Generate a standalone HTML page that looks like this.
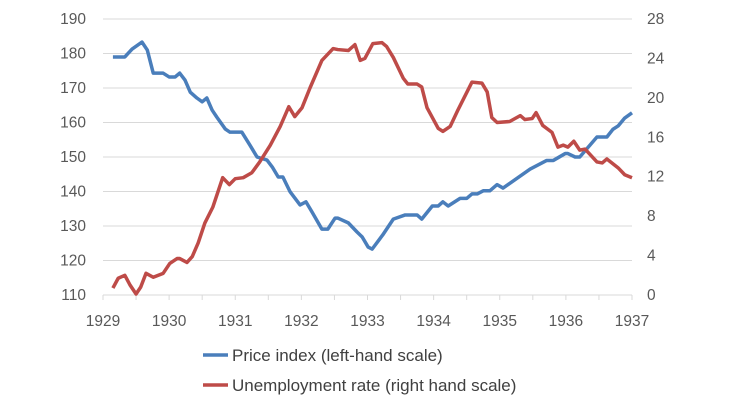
<!DOCTYPE html>
<html><head><meta charset="utf-8"><style>
body{margin:0;background:#fff;}
svg text{font-family:"Liberation Sans",sans-serif;fill:#595959;}
</style></head><body>
<svg id="chart" width="730" height="410" xmlns="http://www.w3.org/2000/svg">
<g id="grid"></g>
<g id="axes"></g>
<g id="series"></g>
<g>
<g>
<line x1="203" y1="355" x2="228" y2="355" stroke="#4a7ebb" stroke-width="3.5"/>
<text x="232" y="361" font-size="17" style="fill:#404040">Price index (left-hand scale)</text></g>
<g>
<line x1="203" y1="385" x2="228" y2="385" stroke="#be4b48" stroke-width="3.5"/>
<text x="232" y="391" font-size="17" style="fill:#404040">Unemployment rate (right hand scale)</text></g>
</g>
</svg>
<script>
const xTicks=[1929,1930,1931,1932,1933,1934,1935,1936,1937];
const leftTicks=[110,120,130,140,150,160,170,180,190];
const rightTicks=[0,4,8,12,16,20,24,28];
const priceYears=[1929.15,1929.33,1929.44,1929.59,1929.67,1929.76,1929.91,1930.00,1930.09,1930.16,1930.24,1930.32,1930.42,1930.50,1930.57,1930.65,1930.72,1930.85,1930.92,1931.10,1931.22,1931.33,1931.48,1931.56,1931.65,1931.72,1931.83,1931.98,1932.07,1932.16,1932.31,1932.40,1932.51,1932.55,1932.71,1932.84,1932.92,1933.01,1933.07,1933.23,1933.39,1933.57,1933.75,1933.82,1933.98,1934.07,1934.14,1934.22,1934.40,1934.50,1934.58,1934.66,1934.75,1934.85,1934.96,1935.05,1935.46,1935.71,1935.81,1935.99,1936.03,1936.14,1936.21,1936.47,1936.62,1936.71,1936.79,1936.89,1937.00];
const priceValues=[179,179,181.3,183.3,181,174.3,174.3,173.2,173.2,174.3,172.3,168.8,167.1,166,167.1,163.6,161.6,158.1,157.2,157.2,153.5,150,149.1,147.1,144.2,144.2,139.9,136.1,137,134.1,129.1,129.1,132.3,132.3,130.9,128.3,126.8,123.9,123.3,127.4,132,133.2,133.2,132,135.8,135.8,137,135.8,138,138,139.3,139.3,140.2,140.2,142,141,146.5,149,149,151,151,150,150,155.8,155.8,158,159,161.3,162.8];
const unempYears=[1929.15,1929.23,1929.33,1929.41,1929.50,1929.57,1929.65,1929.76,1929.91,1930.01,1930.12,1930.16,1930.27,1930.35,1930.44,1930.54,1930.66,1930.81,1930.91,1931.00,1931.12,1931.25,1931.37,1931.53,1931.68,1931.81,1931.90,1932.01,1932.13,1932.31,1932.48,1932.55,1932.71,1932.81,1932.89,1932.96,1933.08,1933.22,1933.29,1933.39,1933.54,1933.61,1933.75,1933.82,1933.90,1934.07,1934.14,1934.25,1934.37,1934.58,1934.73,1934.81,1934.88,1934.96,1935.15,1935.31,1935.38,1935.49,1935.55,1935.65,1935.79,1935.88,1935.96,1936.03,1936.12,1936.21,1936.29,1936.47,1936.55,1936.62,1936.79,1936.89,1937.00];
const unempValues=[0.7,1.7,2.0,1.0,0.1,0.8,2.2,1.8,2.2,3.2,3.7,3.7,3.3,3.9,5.3,7.3,8.9,11.9,11.2,11.8,11.9,12.4,13.5,15.2,17.1,19.1,18.1,19.0,21.0,23.8,25.0,24.9,24.8,25.4,23.8,24.0,25.5,25.6,25.2,24.1,22.0,21.4,21.4,21.1,19.0,16.9,16.6,17.1,18.8,21.6,21.5,20.6,18.0,17.5,17.6,18.2,17.8,17.9,18.5,17.2,16.5,15.0,15.2,15.0,15.6,14.7,14.8,13.5,13.4,13.8,12.9,12.2,11.9];
const NS="http://www.w3.org/2000/svg";
const X0=103,X1=632,Y0=295,Y1=19;
const xS=v=>X0+(v-1929)/8*(X1-X0);
const yL=v=>Y0-(v-110)/80*(Y0-Y1);
const yR=v=>Y0-v/28*(Y0-Y1);
function mk(t,a,p){const e=document.createElementNS(NS,t);for(const k in a)e.setAttribute(k,a[k]);p.appendChild(e);return e;}
const grid=document.getElementById('grid'),axes=document.getElementById('axes'),ser=document.getElementById('series');
leftTicks.forEach((v,i)=>{
 if(i>0){const g=mk('line',{x1:X0,x2:X1,y1:yL(v),y2:yL(v),stroke:'#d9d9d9','stroke-width':1},grid);
 
 }
 const t=mk('text',{x:86,y:yL(v)+5,'font-size':15.5,'text-anchor':'end'},axes);t.textContent=v;
 
 
});
rightTicks.forEach(v=>{
 const t=mk('text',{x:647,y:yR(v)+5,'font-size':15.5},axes);t.textContent=v;
 
 
});
const ax=mk('line',{x1:X0,x2:X1,y1:Y0,y2:Y0,stroke:'#d9d9d9','stroke-width':1},axes);


for(let y=1929;y<=1937;y+=0.5){
 const tk=mk('line',{x1:xS(y),x2:xS(y),y1:Y0,y2:Y0+5,stroke:'#d9d9d9'},axes);
 
 
}
xTicks.forEach(v=>{
 const t=mk('text',{x:xS(v),y:Y0+31,'font-size':15.5,'text-anchor':'middle'},axes);t.textContent=v;
 
 
});
const pb=mk('polyline',{points:priceYears.map((y,i)=>xS(y)+','+yL(priceValues[i])).join(' '),fill:'none',stroke:'#4a7ebb','stroke-width':3.5,'stroke-linejoin':'round'},ser);


const pr=mk('polyline',{points:unempYears.map((y,i)=>xS(y)+','+yR(unempValues[i])).join(' '),fill:'none',stroke:'#be4b48','stroke-width':3.5,'stroke-linejoin':'round'},ser);


</script>
</body></html>
